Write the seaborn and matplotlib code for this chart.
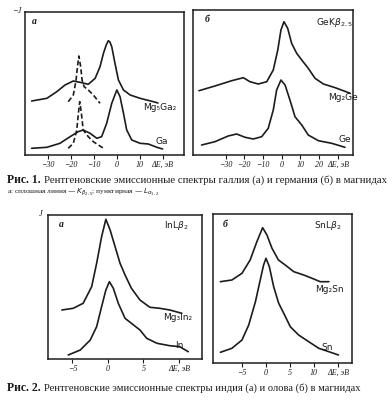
import numpy as np
import pandas as pd
import matplotlib
matplotlib.use("Agg")
import matplotlib.pyplot as plt
import seaborn as sns

# ---------------- data (ΔE in eV, intensity in arbitrary units) ----------------
# Fig. 1a  Ga spectra
ga_mg5ga2_k_E = [-36.9, -30.3, -26.0, -22.4, -18.8, -15.1, -12.3, -9.3, -7.2, -5.7, -4.5,
                 -3.6, -2.9, -2.1, -0.7, 0.8, 3.0, 5.9, 10.2, 16.0, 18.0]
ga_mg5ga2_k_I = [54.0, 56.7, 63.3, 70.0, 74.0, 72.3, 70.7, 76.7, 88.3, 101.7, 110.0,
                 114.3, 113.0, 108.3, 91.7, 75.0, 65.0, 60.0, 56.7, 53.3, 52.0]
ga_mg5ga2_l_E = [-21.0, -18.8, -17.6, -17.0, -16.4, -15.6, -15.0, -14.1, -12.3, -10.1, -7.2]
ga_mg5ga2_l_I = [53.3, 60.0, 75.0, 88.3, 99.0, 88.3, 75.0, 68.3, 65.0, 60.0, 51.7]
ga_k_E = [-36.9, -30.3, -24.6, -20.2, -16.7, -14.5, -11.5, -8.6, -6.5, -4.3, -2.1, 0.1,
          1.5, 3.0, 4.4, 6.6, 10.2, 13.8, 17.5, 20.0]
ga_k_I = [6.7, 7.7, 11.7, 18.3, 23.3, 25.0, 21.7, 16.7, 18.3, 31.7, 51.7, 65.0,
          58.3, 41.7, 25.0, 15.0, 11.7, 11.0, 7.7, 6.0]
ga_l_E = [-21.0, -18.8, -17.3, -16.6, -16.0, -15.3, -14.5, -12.3, -10.1, -7.9, -5.0]
ga_l_I = [6.7, 11.7, 25.0, 41.7, 53.3, 41.7, 25.0, 18.3, 13.3, 10.0, 5.7]

# Fig. 1б  Ge spectra
ge_mg2ge_E = [-44.2, -35.7, -26.7, -20.5, -17.0, -12.5, -8.0, -4.5, -2.1, -0.4, 1.2, 3.2,
              5.3, 8.0, 10.7, 14.2, 17.8, 22.3, 28.6, 36.6]
ge_mg2ge_I = [64.3, 69.0, 74.3, 77.3, 73.3, 71.0, 73.3, 85.0, 105.0, 125.0, 133.3, 126.7,
              111.7, 101.7, 95.0, 86.7, 76.7, 71.0, 67.3, 61.7]
ge_ge_E = [-42.8, -35.7, -28.6, -24.1, -19.6, -15.2, -10.7, -7.2, -4.5, -2.7, -0.4, 1.8,
           4.4, 7.1, 10.7, 14.2, 19.6, 26.7, 33.8]
ge_ge_I = [10.0, 13.3, 19.0, 21.0, 17.7, 16.0, 18.3, 26.7, 45.0, 65.0, 75.0, 70.0,
           55.0, 38.3, 30.0, 20.0, 14.3, 11.7, 7.7]

# Fig. 2а  In spectra
in_mg_E = [-6.5, -4.9, -3.5, -2.3, -1.6, -0.9, -0.3, 0.3, 1.0, 1.7, 2.4, 3.3, 4.5, 5.9,
           7.3, 8.7, 10.4]
in_mg_I = [49.0, 50.7, 55.7, 72.3, 95.7, 122.3, 139.7, 129.0, 112.3, 95.7, 84.0, 70.7,
           59.0, 51.7, 50.7, 49.0, 45.7]
in_in_E = [-5.6, -3.9, -2.5, -1.6, -0.9, -0.3, 0.2, 0.75, 1.45, 2.4, 3.6, 4.5, 5.45, 6.9,
           8.7, 10.1, 11.3]
in_in_I = [4.0, 9.0, 19.0, 32.3, 52.3, 69.0, 77.3, 70.7, 55.7, 40.7, 34.0, 29.0, 20.7,
           15.7, 13.3, 12.3, 7.3]

# Fig. 2б  Sn spectra
sn_mg_E = [-9.5, -7.1, -5.0, -3.3, -1.9, -0.7, 0.2, 1.25, 2.6, 4.0, 5.8, 7.85, 9.6, 11.3, 13.1]
sn_mg_I = [81.3, 83.0, 89.7, 103.0, 121.3, 135.3, 128.0, 114.7, 103.0, 98.0, 91.3, 88.0,
           84.7, 81.3, 81.3]
sn_sn_E = [-9.5, -7.1, -5.0, -3.6, -2.2, -1.2, -0.5, 0.0, 0.7, 1.6, 2.65, 3.7, 5.06, 6.8,
           8.9, 11.0, 13.1, 15.1]
sn_sn_I = [10.7, 14.7, 23.0, 38.0, 61.3, 83.0, 98.0, 104.7, 96.3, 76.3, 59.7, 49.7, 36.3,
           28.0, 21.3, 14.7, 11.3, 8.0]

# tick labels
ticks_1a = [-30, -20, -10, 0, 10, 20]
labels_1a = ["−30", "−20", "−10", "0", "10", "ΔE, эВ"]
ticks_1b = [-30, -20, -10, 0, 10, 20, 30]
labels_1b = ["−30", "−20", "−10", "0", "10", "20", "ΔE, эВ"]
ticks_2a = [-5, 0, 5, 10]
labels_2a = ["−5", "0", "5", "ΔE, эВ"]
ticks_2b = [-5, 0, 5, 10, 15]
labels_2b = ["−5", "0", "5", "10", "ΔE, эВ"]

caption1_head = "Рис. 1."
caption1_body = "Рентгеновские эмиссионные спектры галлия (а) и германия (б) в магнидах"
caption1_line2 = r"а: сплошная линия — $K_{\beta_{2,5}}$; пунктирная — $L_{\alpha_{1,2}}$"
caption2_head = "Рис. 2."
caption2_body = "Рентгеновские эмиссионные спектры индия (а) и олова (б) в магнидах"

# ---------------- drawing ----------------
sns.set_theme(style="white")
plt.rcParams["font.family"] = ["DejaVu Sans"]
INK = "#1c1c1c"
W, H = 392, 400
fig = plt.figure(figsize=(W / 100, H / 100), dpi=100)
fig.patch.set_facecolor("white")


def px_axes(x0, y0, x1, y1):
    return fig.add_axes([x0 / W, 1 - y1 / H, (x1 - x0) / W, (y1 - y0) / H])


def style_axes(ax, xlim, ylim, ticks, labels):
    ax.set_xlim(*xlim)
    ax.set_ylim(*ylim)
    ax.set_facecolor("white")
    for s in ax.spines.values():
        s.set_visible(True)
        s.set_color(INK)
        s.set_linewidth(1.1)
    ax.set_yticks([])
    ax.set_xticks(ticks)
    ax.set_xticklabels(labels, fontsize=5.8, style="italic",
                       family=["Liberation Serif", "DejaVu Serif"], color=INK)
    ax.tick_params(axis="x", direction="out", length=3, width=0.8, color=INK, pad=1.5,
                   bottom=True)
    ax.set_xlabel("")
    ax.set_ylabel("")
    ax.grid(False)


def curve(ax, E, I, dashed=False):
    df = pd.DataFrame({"E": E, "I": I})
    sns.lineplot(data=df, x="E", y="I", ax=ax, color=INK, linewidth=1.2,
                 estimator=None, sort=False,
                 linestyle=(0, (3.0, 1.6)) if dashed else "-")


ax1 = px_axes(25, 12, 184, 155)
curve(ax1, ga_mg5ga2_k_E, ga_mg5ga2_k_I)
curve(ax1, ga_mg5ga2_l_E, ga_mg5ga2_l_I, dashed=True)
curve(ax1, ga_k_E, ga_k_I)
curve(ax1, ga_l_E, ga_l_I, dashed=True)
style_axes(ax1, (-39.8, 29.3), (0, 143), ticks_1a, labels_1a)

ax2 = px_axes(193, 10, 353, 155)
curve(ax2, ge_mg2ge_E, ge_mg2ge_I)
curve(ax2, ge_ge_E, ge_ge_I)
style_axes(ax2, (-47.4, 38.1), (0, 145), ticks_1b, labels_1b)

ax3 = px_axes(48, 215, 202, 359)
curve(ax3, in_mg_E, in_mg_I)
curve(ax3, in_in_E, in_in_I)
style_axes(ax3, (-8.45, 13.24), (0, 144), ticks_2a, labels_2a)

ax4 = px_axes(213, 214, 352, 363)
curve(ax4, sn_mg_E, sn_mg_I)
curve(ax4, sn_sn_E, sn_sn_I)
style_axes(ax4, (-11.04, 17.92), (0, 149), ticks_2b, labels_2b)


def ftext(x, y, s, size=5.5, **kw):
    kw.setdefault("ha", "center")
    kw.setdefault("va", "center")
    kw.setdefault("color", INK)
    return fig.text(x / W, 1 - y / H, s, fontsize=size, **kw)


NARROW = ["Liberation Sans Narrow", "DejaVu Sans"]
LS = 6.5
# panel letters and y labels
ftext(34, 22, "а", size=7, style="italic", weight="bold", family=["Liberation Serif"])
ftext(207, 20, "б", size=7, style="italic", weight="bold", family=["Liberation Serif"])
ftext(61, 224, "а", size=7, style="italic", weight="bold", family=["Liberation Serif"])
ftext(225, 224, "б", size=7, style="italic", weight="bold", family=["Liberation Serif"])
ftext(17, 11, "−J", size=6, style="italic", family=["Liberation Serif"])
ftext(41, 214, "J", size=6, style="italic", family=["Liberation Serif"])

# series labels
ftext(160, 108, "Mg₅Ga₂", size=LS, family=NARROW)
ftext(162, 142, "Ga", size=LS, family=NARROW)
ftext(334, 23, r"GeK$\beta_{2,5}$", size=LS, family=NARROW)
ftext(343, 97, "Mg₂Ge", size=LS, family=NARROW)
ftext(345, 140, "Ge", size=LS, family=NARROW)
ftext(176, 225, r"InL$\beta_2$", size=LS, family=NARROW)
ftext(178, 318, "Mg₃In₂", size=LS, family=NARROW)
ftext(179, 345, "In", size=LS, family=NARROW)
ftext(328, 225, r"SnL$\beta_2$", size=LS, family=NARROW)
ftext(329, 290, "Mg₂Sn", size=LS, family=NARROW)
ftext(327, 347, "Sn", size=LS, family=NARROW)

# captions fitted to width
renderer = fig.canvas.get_renderer()


def fit_text(x0, x1, y, s, size=7, **kw):
    t = fig.text(x0 / W, 1 - y / H, s, fontsize=size, ha="left", va="center",
                 color=INK, family=["Liberation Serif", "DejaVu Serif"], **kw)
    w = t.get_window_extent(renderer).width
    t.set_fontsize(size * (x1 - x0) / w)
    return t


fit_text(7, 41, 180, caption1_head, weight="bold")
fit_text(44, 387, 180, caption1_body)
fit_text(7, 160, 192, caption1_line2)
fit_text(7, 41, 388, caption2_head, weight="bold")
fit_text(44, 362, 388, caption2_body)

fig.savefig("out.png", dpi=100, facecolor="white")
